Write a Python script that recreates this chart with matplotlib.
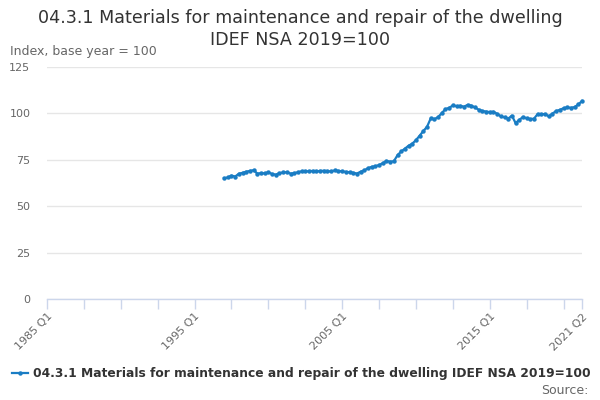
import matplotlib
matplotlib.use("Agg")
import matplotlib.pyplot as plt
from matplotlib.lines import Line2D

plt.rcParams['font.family'] = ['DejaVu Sans']

title_lines = ["04.3.1 Materials for maintenance and repair of the dwelling",
               "IDEF NSA 2019=100"]
series_name = "04.3.1 Materials for maintenance and repair of the dwelling IDEF NSA 2019=100"
y_label = "Index, base year = 100"

axis_start = (1985, 1)
axis_end = (2021, 2)
data_start = (1997, 1)

values = [
    65.0, 65.5, 66.5, 66.0,
    67.5, 68.0, 68.6, 69.0,
    69.4, 67.6, 67.8, 67.7,
    68.2, 67.4, 67.0, 67.8,
    68.2, 68.3, 67.6, 67.8,
    68.3, 68.8, 68.7, 68.9,
    69.0, 68.7, 69.0, 69.1,
    68.9, 68.7, 69.3, 69.0,
    68.8, 68.5, 68.3, 68.0,
    67.6, 68.6, 69.3, 70.5,
    71.2, 71.5, 72.2, 73.2,
    74.4, 74.0, 74.2, 77.5,
    79.5, 81.0, 82.6, 83.7,
    85.6, 88.0, 90.5, 92.8,
    97.3, 96.9, 98.0, 100.2,
    102.3, 103.0, 104.3, 103.9,
    104.1, 103.6, 104.6, 104.2,
    103.2, 102.0, 101.3, 101.0,
    100.7, 100.9, 99.8, 98.4,
    97.9, 97.2, 98.8, 94.8,
    96.5, 98.1, 97.3, 96.9,
    97.2, 99.7, 99.5, 99.7,
    98.4, 99.9, 101.3, 101.9,
    102.8, 103.2, 103.0, 103.4,
    104.8, 106.7,
]

y_ticks = [0, 25, 50, 75, 100, 125]
x_tick_labels = ["1985 Q1", "1995 Q1", "2005 Q1", "2015 Q1", "2021 Q2"]

line_color = "#1a7dc4"


def qidx(yq):
    return (yq[0] - axis_start[0]) * 4 + (yq[1] - axis_start[1])


def parse(lbl):
    y, q = lbl.split(" Q")
    return (int(y), int(q))


start = qidx(data_start)
xs = [start + i for i in range(len(values))]
end = qidx(axis_end)

fig = plt.figure(figsize=(6, 4), dpi=100)
ax = fig.add_axes([47/600, 1-299/400, (582-47)/600, (299-67)/400])

ax.plot(xs, values, color=line_color, lw=1.6, marker="o", ms=3.2,
        markeredgewidth=0, zorder=3, clip_on=False)

ax.set_xlim(0, end)
ax.set_ylim(0, 125)
ax.set_yticks(y_ticks)
ax.set_yticklabels([str(t) for t in y_ticks])
ax.grid(axis="y", color="#e6e6e6", lw=1)
ax.set_axisbelow(True)
for s in ["top", "right", "left"]:
    ax.spines[s].set_visible(False)
ax.spines["bottom"].set_color("#ccd6eb")
ax.spines["bottom"].set_linewidth(1)
ax.tick_params(axis="y", length=0, labelsize=8, labelcolor="#666666", pad=12)

major = list(range(0, end, 10)) + [end]
ax.set_xticks(major)
label_pos = {qidx(parse(l)): l for l in x_tick_labels}
labels = [label_pos.get(m, "") for m in major]
ax.set_xticklabels(labels, rotation=45, ha="right", rotation_mode="anchor")
ax.tick_params(axis="x", length=7, color="#ccd6eb", width=1,
               labelsize=8, labelcolor="#666666", pad=2)

for i, line in enumerate(title_lines):
    fig.text(0.5, 1 - (18 + 22 * i) / 400, line, ha="center", va="center",
             fontsize=12.6, color="#333333")
fig.text(10/600, 1-52/400, y_label, ha="left", va="center", fontsize=9,
         color="#666666")

# legend
ly = 1 - 373/400
fig.lines.append(Line2D([12/600, 20/600, 28/600], [ly, ly, ly],
                        transform=fig.transFigure, color=line_color, lw=1.6,
                        marker="o", ms=3.2, markevery=[1], markeredgewidth=0))
fig.text(33/600, ly, series_name, ha="left", va="center",
         fontsize=8.8, fontweight="bold", color="#333333")
fig.text(588/600, 1-390/400, "Source:", ha="right", va="center",
         fontsize=9, color="#666666")

fig.savefig("out.png", dpi=100, facecolor="white")
